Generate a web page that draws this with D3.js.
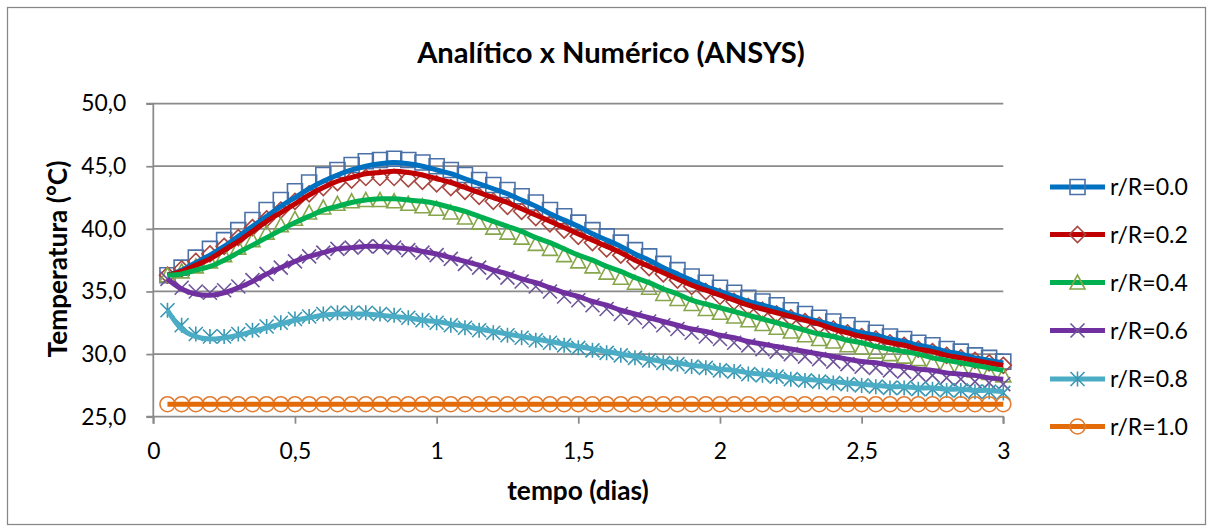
<!DOCTYPE html>
<html><head><meta charset="utf-8">
<script src="https://cdn.jsdelivr.net/npm/d3@7"></script>
<style>body{margin:0;background:#fff} svg{display:block}</style>
</head><body><svg id="c" width="1213" height="532"></svg>
<script>
// ---------------- DATA ----------------
const tempo = [0.05,0.10,0.15,0.20,0.25,0.30,0.35,0.40,0.45,0.50,
  0.55,0.60,0.65,0.70,0.75,0.80,0.85,0.90,0.95,1.00,
  1.05,1.10,1.15,1.20,1.25,1.30,1.35,1.40,1.45,1.50,
  1.55,1.60,1.65,1.70,1.75,1.80,1.85,1.90,1.95,2.00,
  2.05,2.10,2.15,2.20,2.25,2.30,2.35,2.40,2.45,2.50,
  2.55,2.60,2.65,2.70,2.75,2.80,2.85,2.90,2.95,3.00];

const seriesNames = ["r/R=0.0","r/R=0.2","r/R=0.4","r/R=0.6","r/R=0.8","r/R=1.0"];
const xTicks = [0,0.5,1,1.5,2,2.5,3];
const xTickLabels = ["0","0,5","1","1,5","2","2,5","3"];
const yTicks = [25,30,35,40,45,50];
const yTickLabels = ["25,0","30,0","35,0","40,0","45,0","50,0"];

// analytic solution (lines)
const analitico00 = [36.3,36.7,37.3,37.9,38.6,39.4,40.2,41.0,41.8,42.5,
  43.2,43.8,44.3,44.7,45.0,45.2,45.3,45.2,45.0,44.7,
  44.4,44.0,43.6,43.2,42.8,42.3,41.8,41.2,40.7,40.2,
  39.6,39.1,38.6,38.0,37.5,36.9,36.4,35.9,35.4,35.0,
  34.6,34.2,33.9,33.6,33.2,32.9,32.6,32.3,32.0,31.7,
  31.5,31.2,31.0,30.7,30.5,30.2,30.0,29.7,29.5,29.3];
const analitico02 = [36.3,36.6,37.1,37.6,38.3,39.0,39.8,40.6,41.3,42.0,
  42.7,43.3,43.8,44.1,44.4,44.5,44.6,44.5,44.3,44.0,
  43.7,43.3,42.9,42.5,42.1,41.6,41.1,40.6,40.1,39.6,
  39.1,38.6,38.1,37.5,37.0,36.5,36.0,35.5,35.1,34.7,
  34.3,33.9,33.6,33.3,33.0,32.7,32.4,32.0,31.7,31.4,
  31.2,30.9,30.7,30.4,30.2,29.9,29.7,29.5,29.3,29.1];
const analitico04 = [36.3,36.4,36.7,37.0,37.5,38.1,38.7,39.3,39.9,40.5,
  41.0,41.5,41.8,42.1,42.3,42.4,42.4,42.3,42.2,42.0,
  41.7,41.4,41.0,40.6,40.2,39.8,39.3,38.9,38.4,37.9,
  37.5,37.0,36.6,36.1,35.7,35.2,34.8,34.3,34.0,33.7,
  33.4,33.1,32.8,32.5,32.2,31.9,31.6,31.4,31.1,30.9,
  30.6,30.4,30.2,30.0,29.7,29.5,29.3,29.1,28.9,28.7];
const analitico06 = [36.0,35.2,34.8,34.7,34.9,35.3,35.8,36.4,36.9,37.4,
  37.8,38.1,38.4,38.5,38.6,38.6,38.5,38.4,38.2,38.0,
  37.7,37.4,37.1,36.7,36.4,36.0,35.7,35.3,34.9,34.6,
  34.2,33.9,33.5,33.2,32.9,32.6,32.3,32.0,31.8,31.5,
  31.3,31.0,30.8,30.6,30.4,30.2,30.0,29.8,29.6,29.4,
  29.3,29.1,29.0,28.8,28.7,28.5,28.4,28.3,28.1,28.0];
const analitico08 = [33.5,32.0,31.4,31.2,31.3,31.5,31.8,32.1,32.4,32.7,
  32.9,33.1,33.2,33.2,33.2,33.1,33.0,32.9,32.7,32.6,
  32.4,32.2,32.0,31.8,31.6,31.4,31.2,31.0,30.8,30.6,
  30.4,30.2,30.0,29.8,29.6,29.4,29.3,29.1,29.0,28.8,
  28.7,28.5,28.4,28.3,28.1,28.0,27.9,27.8,27.7,27.6,
  27.5,27.4,27.4,27.3,27.3,27.2,27.2,27.1,27.1,27.0];
const analitico10 = [26.0,26.0,26.0,26.0,26.0,26.0,26.0,26.0,26.0,26.0,
  26.0,26.0,26.0,26.0,26.0,26.0,26.0,26.0,26.0,26.0,
  26.0,26.0,26.0,26.0,26.0,26.0,26.0,26.0,26.0,26.0,
  26.0,26.0,26.0,26.0,26.0,26.0,26.0,26.0,26.0,26.0,
  26.0,26.0,26.0,26.0,26.0,26.0,26.0,26.0,26.0,26.0,
  26.0,26.0,26.0,26.0,26.0,26.0,26.0,26.0,26.0,26.0];

// numeric solution (ANSYS, markers)
const ansys00 = [36.3,36.9,37.7,38.4,39.1,39.9,40.7,41.5,42.3,43.0,
  43.7,44.3,44.7,45.1,45.4,45.5,45.6,45.5,45.3,45.0,
  44.7,44.3,43.9,43.5,43.1,42.6,42.1,41.5,41.0,40.5,
  39.9,39.4,38.9,38.3,37.8,37.2,36.7,36.2,35.7,35.3,
  34.9,34.5,34.2,33.9,33.5,33.2,32.9,32.6,32.3,32.0,
  31.7,31.4,31.2,30.9,30.7,30.4,30.2,29.9,29.7,29.4];
const ansys02 = [36.3,36.8,37.4,38.0,38.6,39.3,40.1,40.8,41.5,42.2,
  42.8,43.3,43.7,43.9,44.1,44.1,44.1,44.0,43.8,43.6,
  43.3,43.0,42.6,42.2,41.8,41.4,40.9,40.4,39.9,39.4,
  38.9,38.4,37.9,37.4,36.9,36.4,35.9,35.4,35.0,34.6,
  34.2,33.8,33.5,33.2,32.9,32.6,32.3,32.0,31.7,31.4,
  31.2,30.9,30.7,30.4,30.2,29.9,29.7,29.5,29.3,29.1];
const ansys04 = [36.3,36.6,37.0,37.4,37.9,38.5,39.1,39.7,40.3,40.8,
  41.3,41.7,42.0,42.2,42.3,42.3,42.2,42.0,41.8,41.6,
  41.3,40.9,40.5,40.1,39.7,39.3,38.8,38.4,37.9,37.4,
  37.0,36.5,36.1,35.7,35.3,34.8,34.4,34.0,33.6,33.3,
  33.0,32.7,32.4,32.1,31.8,31.5,31.2,31.0,30.7,30.5,
  30.2,30.0,29.8,29.6,29.3,29.1,28.9,28.7,28.5,28.3];
const ansys06 = [36.0,35.3,35.0,34.9,35.1,35.4,35.9,36.4,36.9,37.4,
  37.8,38.1,38.4,38.5,38.6,38.6,38.5,38.3,38.1,37.9,
  37.6,37.2,36.9,36.5,36.1,35.8,35.4,35.0,34.6,34.3,
  33.9,33.6,33.2,32.9,32.6,32.3,32.0,31.7,31.4,31.2,
  30.9,30.7,30.4,30.2,30.0,29.8,29.6,29.4,29.2,29.0,
  28.9,28.7,28.6,28.4,28.3,28.1,28.0,27.8,27.7,27.6];
const ansys08 = [33.5,32.3,31.6,31.4,31.4,31.6,31.9,32.2,32.5,32.8,
  33.0,33.2,33.3,33.3,33.3,33.2,33.1,32.9,32.7,32.5,
  32.3,32.1,31.9,31.7,31.5,31.3,31.1,30.9,30.7,30.5,
  30.3,30.1,29.9,29.7,29.5,29.3,29.2,29.0,28.9,28.7,
  28.6,28.4,28.3,28.2,28.0,27.9,27.8,27.7,27.6,27.5,
  27.4,27.3,27.3,27.2,27.2,27.1,27.1,27.0,27.0,26.9];
const ansys10 = [26.0,26.0,26.0,26.0,26.0,26.0,26.0,26.0,26.0,26.0,
  26.0,26.0,26.0,26.0,26.0,26.0,26.0,26.0,26.0,26.0,
  26.0,26.0,26.0,26.0,26.0,26.0,26.0,26.0,26.0,26.0,
  26.0,26.0,26.0,26.0,26.0,26.0,26.0,26.0,26.0,26.0,
  26.0,26.0,26.0,26.0,26.0,26.0,26.0,26.0,26.0,26.0,
  26.0,26.0,26.0,26.0,26.0,26.0,26.0,26.0,26.0,26.0];

// ---------------- STYLE ----------------
const lineColors   = ["#0070C0","#C00000","#00B050","#7030A0","#4BACC6","#E36C09"];
const markerColors = ["#4A72A8","#A8453F","#87A64B","#6E559A","#3A97B1","#E27B2F"];
const markerTypes  = ["square","diamond","triangle","x","star","circle"];
const analitico = [analitico00,analitico02,analitico04,analitico06,analitico08,analitico10];
const ansys = [ansys00,ansys02,ansys04,ansys06,ansys08,ansys10];

const FONT = "Lato, 'Open Sans', sans-serif";
const svg = d3.select("#c");
svg.append("rect").attr("width",1213).attr("height",532).attr("fill","#fff");
svg.append("rect").attr("x",7.5).attr("y",7.5).attr("width",1198).attr("height",517)
  .attr("fill","none").attr("stroke","#868686").attr("stroke-width",1.25);

function fitSize(txt, weight, target){
  const t = svg.append("text").attr("font-family",FONT).attr("font-weight",weight)
     .attr("font-size",20).text(txt);
  const w = t.node().getComputedTextLength(); t.remove();
  return 20*target/w;
}
const tickFS = fitSize("50,0",400,45);
const legFS = fitSize("r/R=0.0",400,78);
const titleFS = fitSize("Analítico x Numérico (ANSYS)",700,388);
const yTitleFS = fitSize("Temperatura (°C)",700,197);
const xTitleFS = yTitleFS;

const x = d3.scaleLinear().domain([0,3]).range([153.3,1003.3]);
const y = d3.scaleLinear().domain([25,50]).range([416.7,103.6]);

// gridlines
svg.append("g").selectAll("line").data(yTicks.slice(1)).join("line")
  .attr("x1",x(0)).attr("x2",x(3)).attr("y1",d=>y(d)).attr("y2",d=>y(d))
  .attr("stroke","#8a8a8a").attr("stroke-width",1.75);

// axes
const yAxis = svg.append("g").attr("transform",`translate(${x(0)},0)`)
  .call(d3.axisLeft(y).tickValues(yTicks).tickFormat((d,i)=>yTickLabels[i]).tickSize(7).tickPadding(20));
const xAxis = svg.append("g").attr("transform",`translate(0,${y(25)})`)
  .call(d3.axisBottom(x).tickValues(xTicks).tickFormat((d,i)=>xTickLabels[i]).tickSize(7).tickPadding(19));
[yAxis,xAxis].forEach(g=>{
  g.select(".domain").attr("stroke","#8a8a8a").attr("stroke-width",1.75);
  g.selectAll(".tick line").attr("stroke","#8a8a8a").attr("stroke-width",1.75);
  g.selectAll("text").attr("font-family",FONT).attr("font-size",tickFS).attr("fill","#000");
});
yAxis.select(".domain").attr("d",`M-7,${y(50)}H0V${y(25)}H-7`);
xAxis.select(".domain").attr("d",`M${x(0)},7V0H${x(3)}V7`);

// markers
function markerPath(type){
  const s = 7.5;
  switch(type){
    case "square": return `M${-s},${-s}H${s}V${s}H${-s}Z`;
    case "diamond": return `M0,${-s-0.5}L${s+0.5},0L0,${s+0.5}L${-s-0.5},0Z`;
    case "triangle": return `M0,${-s}L${s},${s-1}L${-s},${s-1}Z`;
    case "x": return `M${-s+0.5},${-s+0.5}L${s-0.5},${s-0.5}M${-s+0.5},${s-0.5}L${s-0.5},${-s+0.5}`;
    case "star": return `M${-s+0.5},${-s+0.5}L${s-0.5},${s-0.5}M${-s+0.5},${s-0.5}L${s-0.5},${-s+0.5}M0,${-s}V${s}`;
    case "circle": return `M${s},0A${s},${s},0,1,1,${-s},0A${s},${s},0,1,1,${s},0Z`;
  }
}
const plot = svg.append("g");
ansys.forEach((vals,k)=>{
  plot.append("g").selectAll("path").data(vals).join("path")
    .attr("transform",(d,i)=>`translate(${x(tempo[i])},${y(d)})`)
    .attr("d",markerPath(markerTypes[k]))
    .attr("fill","none").attr("stroke",markerColors[k]).attr("stroke-width",1.6);
});
const line = d3.line().x((d,i)=>x(tempo[i])).y(d=>y(d)).curve(d3.curveCatmullRom.alpha(0.5));
analitico.forEach((vals,k)=>{
  plot.append("path").datum(vals).attr("d",line)
    .attr("fill","none").attr("stroke",lineColors[k]).attr("stroke-width",5)
    .attr("stroke-linejoin","round");
});

// legend
const legY = [187,234.5,282.5,330.5,379,426.5];
const leg = svg.append("g");
seriesNames.forEach((n,k)=>{
  const g = leg.append("g").attr("transform",`translate(0,${legY[k]})`);
  g.append("line").attr("x1",1050).attr("x2",1105).attr("y1",0).attr("y2",0)
    .attr("stroke",lineColors[k]).attr("stroke-width",5);
  g.append("path").attr("transform","translate(1077.5,0)").attr("d",markerPath(markerTypes[k]))
    .attr("fill","none").attr("stroke",markerColors[k]).attr("stroke-width",1.6);
  g.append("text").attr("x",1110).attr("y",8).attr("font-family",FONT).attr("font-size",legFS)
    .attr("fill","#000").text(n);
});

// titles
svg.append("text").attr("x",611).attr("y",63).attr("text-anchor","middle")
  .attr("font-family",FONT).attr("font-weight",700).attr("font-size",titleFS).text("Analítico x Numérico (ANSYS)");
svg.append("text").attr("transform","translate(67,259) rotate(-90)").attr("text-anchor","middle")
  .attr("font-family",FONT).attr("font-weight",700).attr("font-size",yTitleFS).text("Temperatura (°C)");
svg.append("text").attr("x",578).attr("y",500).attr("text-anchor","middle")
  .attr("font-family",FONT).attr("font-weight",700).attr("font-size",xTitleFS).text("tempo (dias)");
</script></body></html>
